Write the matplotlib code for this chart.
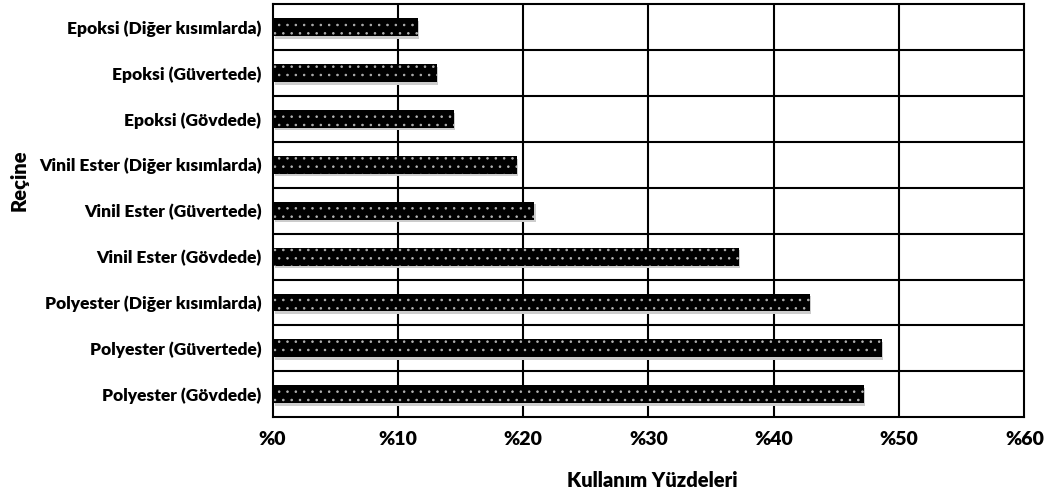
import matplotlib
matplotlib.use("Agg")
import matplotlib.pyplot as plt

categories = [
    "Epoksi (Diğer kısımlarda)",
    "Epoksi (Güvertede)",
    "Epoksi (Gövdede)",
    "Vinil Ester (Diğer kısımlarda)",
    "Vinil Ester (Güvertede)",
    "Vinil Ester (Gövdede)",
    "Polyester (Diğer kısımlarda)",
    "Polyester (Güvertede)",
    "Polyester (Gövdede)",
]
values = [11.5, 13.0, 14.4, 19.4, 20.8, 37.1, 42.8, 48.5, 47.1]
xticks = [0, 10, 20, 30, 40, 50, 60]
xticklabels = ["%0", "%10", "%20", "%30", "%40", "%50", "%60"]

plt.rcParams['font.family'] = ['Lato', 'DejaVu Sans']
plt.rcParams['font.weight'] = 'heavy'
plt.rcParams['hatch.linewidth'] = 0.6

fig = plt.figure(figsize=(10.49, 4.97), dpi=100)
ax = fig.add_axes([0.2598, 0.1604, 0.7168, 0.8316])

y = list(range(len(categories)))
h = 0.39
# shadow
ax.barh([v + 0.06 for v in y], values, height=h, left=0.2, color='#cccccc', zorder=2)
ax.barh(y, values, height=h, left=0.1, color='black', zorder=3)
ax.barh(y, values, height=h, left=0.1, color='none', edgecolor='#b4b4b4',
        hatch='..', linewidth=0, zorder=4)

ax.set_xlim(0, 60)
ax.set_ylim(len(categories) - 0.5, -0.5)
ax.set_xticks(xticks)
ax.set_xticklabels(xticklabels, fontsize=14, fontweight='heavy')
ax.set_yticks(y)
ax.set_yticklabels(categories, fontsize=12.5, fontweight='heavy')
ax.tick_params(length=0, pad=8)
ax.tick_params(axis='x', pad=10)

for xv in xticks[1:-1]:
    ax.axvline(xv, color='black', lw=1.5, zorder=1)
for k in range(len(categories) - 1):
    ax.axhline(k + 0.5, color='black', lw=1.5, zorder=1)
for s in ax.spines.values():
    s.set_linewidth(1.5)

fig.text(652 / 1049, 1 - 487 / 497, "Kullanım Yüzdeleri", fontsize=14.5,
         fontweight='heavy', ha='center', va='baseline')
fig.text(19 / 1049, 1 - 180 / 497, "Reçine", fontsize=14.5,
         fontweight='heavy', ha='center', va='center', rotation=90)

fig.savefig("out.png", dpi=100)
